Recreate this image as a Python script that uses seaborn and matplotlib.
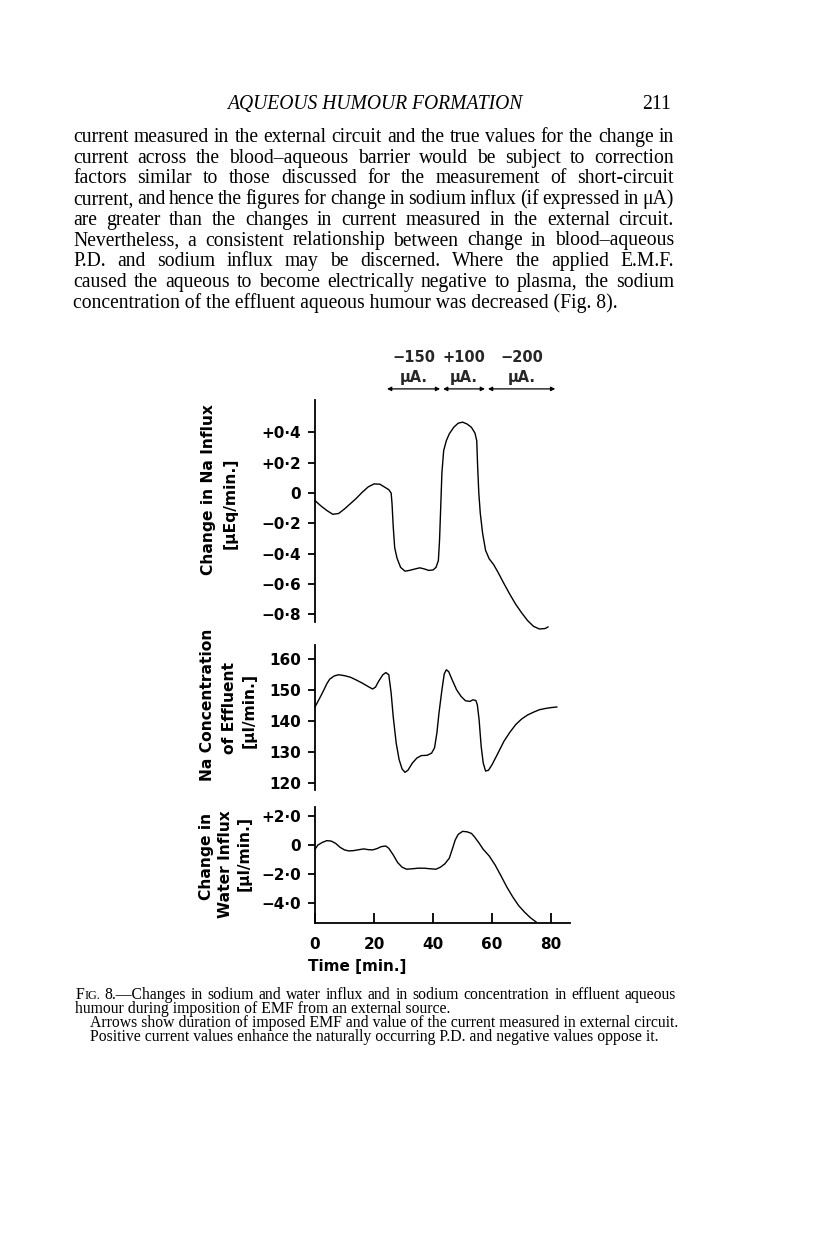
import numpy as np
import pandas as pd
import matplotlib
matplotlib.use("Agg")
import matplotlib.pyplot as plt
import seaborn as sns

# ---------------- data ----------------
na_influx_t = [0, 2, 4, 6, 8, 10, 12, 14, 16, 18, 20, 22, 23.5, 25, 25.8, 26.1, 26.5, 27, 27.8, 29,
               30.5, 32, 34, 35.5, 37, 38.5, 40, 41, 41.8, 42.2, 42.6, 43, 43.6, 44.5, 45.5, 47, 48.5,
               50, 51.5, 53, 54.2, 54.8, 55.1, 55.5, 56, 56.8, 57.8, 59, 60.5, 62, 64, 66, 68, 70,
               72, 74, 76, 78, 79]
na_influx_v = [-0.05, -0.085, -0.115, -0.14, -0.135, -0.105, -0.07, -0.035, 0.005, 0.04, 0.06, 0.058,
               0.04, 0.022, 0.0, -0.07, -0.22, -0.36, -0.43, -0.49, -0.515, -0.51, -0.5, -0.493, -0.5,
               -0.51, -0.507, -0.49, -0.445, -0.31, -0.09, 0.133, 0.28, 0.345, 0.39, 0.433, 0.46,
               0.467, 0.455, 0.433, 0.395, 0.345, 0.178, 0.0, -0.133, -0.267, -0.378, -0.433, -0.471,
               -0.522, -0.596, -0.667, -0.733, -0.789, -0.84, -0.878, -0.896, -0.893, -0.882]

na_conc_t = [0, 1, 2, 3, 4, 5, 6.5, 8, 10, 12, 14, 16, 18, 19.5, 20.5, 21.5, 23, 24, 25, 25.8, 26.5,
             27.5, 28.5, 29.5, 30.5, 31.5, 33, 34.5, 36, 38, 39.5, 40.5, 41.3, 42, 43, 43.8, 44.5,
             45.3, 46.5, 48, 49.5, 51, 52.5, 53.5, 54.5, 55, 55.6, 56.3, 57, 57.8, 58.8, 60, 62, 64,
             66, 68, 70, 72, 74, 76, 78, 80, 82]
na_conc_v = [144.5, 146.3, 148.1, 150.0, 152.0, 153.5, 154.5, 154.9, 154.6, 154.1, 153.2, 152.2, 151.1,
             150.3, 150.9, 152.7, 154.9, 155.6, 154.9, 149.0, 141.4, 132.9, 127.5, 124.5, 123.4,
             124.1, 126.4, 128.0, 128.8, 128.9, 129.6, 131.3, 136.1, 142.5, 150.0, 155.2, 156.5,
             155.9, 153.2, 150.0, 147.9, 146.5, 146.3, 146.8, 146.6, 145.2, 140.4, 131.8, 126.4,
             123.8, 124.1, 125.9, 129.6, 133.4, 136.3, 138.8, 140.6, 141.9, 142.8, 143.6, 144.0,
             144.3, 144.5]

water_t = [0, 1, 2.5, 4, 5.5, 7, 8.5, 10, 11.5, 13, 15, 16.5, 18, 19.5, 21, 22.5, 24, 25, 26.5, 28,
           29.5, 31, 33, 35, 37, 39, 41, 42.5, 44, 45.5, 46.5, 47.5, 48.5, 50, 51.5, 53, 54, 55.5,
           57, 59, 61, 63, 65, 67, 69, 71, 73, 75]
water_v = [-0.3, 0.0, 0.18, 0.3, 0.27, 0.11, -0.16, -0.34, -0.41, -0.39, -0.32, -0.27, -0.32, -0.34,
           -0.25, -0.11, -0.07, -0.23, -0.68, -1.21, -1.53, -1.67, -1.64, -1.6, -1.6, -1.64, -1.67,
           -1.53, -1.3, -0.91, -0.3, 0.34, 0.73, 0.94, 0.91, 0.8, 0.57, 0.16, -0.3, -0.75, -1.37,
           -2.12, -2.9, -3.58, -4.18, -4.63, -5.02, -5.32]

current_labels = ["\u2212150", "+100", "\u2212200"]
current_start = [24.4, 43.4, 58.6]
current_end = [42.4, 57.6, 81.4]

na_influx_ticks = [0.4, 0.2, 0.0, -0.2, -0.4, -0.6, -0.8]
na_influx_ticklabels = ["+0\u00b74", "+0\u00b72", "0", "\u22120\u00b72", "\u22120\u00b74", "\u22120\u00b76", "\u22120\u00b78"]
na_conc_ticks = [160, 150, 140, 130, 120]
na_conc_ticklabels = ["160", "150", "140", "130", "120"]
water_ticks = [2.0, 0.0, -2.0, -4.0]
water_ticklabels = ["+2\u00b70", "0", "\u22122\u00b70", "\u22124\u00b70"]
time_ticks = [0, 20, 40, 60, 80]
time_ticklabels = ["0", "20", "40", "60", "80"]

header = "AQUEOUS HUMOUR FORMATION"
page_no = "211"
body_lines = [
    "current measured in the external circuit and the true values for the change in",
    "current across the blood\u2013aqueous barrier would be subject to correction",
    "factors similar to those discussed for the measurement of short-circuit",
    "current, and hence the figures for change in sodium influx (if expressed in \u03bcA)",
    "are greater than the changes in current measured in the external circuit.",
    "Nevertheless, a consistent relationship between change in blood\u2013aqueous",
    "P.D. and sodium influx may be discerned.  Where the applied E.M.F.",
    "caused the aqueous to become electrically negative to plasma, the sodium",
    "concentration of the effluent aqueous humour was decreased (Fig. 8).",
]
caption_first_rest = "8.\u2014Changes in sodium and water influx and in sodium concentration in effluent aqueous"
caption_lines = [
    "humour during imposition of EMF from an external source.",
    "Arrows show duration of imposed EMF and value of the current measured in external circuit.",
    "Positive current values enhance the naturally occurring P.D. and negative values oppose it.",
]

# ---------------- figure ----------------
W, H = 816, 1239
sns.set_theme(style="white")
plt.rcParams["font.family"] = ["DejaVu Sans"]
fig = plt.figure(figsize=(W / 100, H / 100), dpi=100)
fig.patch.set_facecolor("white")
renderer = fig.canvas.get_renderer()


def fx(px):
    return px / W


def fy(py):
    return 1 - py / H


def width_of(s, **kw):
    t = fig.text(0, 0, s, **kw)
    w = t.get_window_extent(renderer).width
    t.remove()
    return w


def put(s, x, y, **kw):
    return fig.text(fx(x), fy(y), s, color="black", **kw)


def justified(s, x0, x1, y, **kw):
    words = s.split()
    ws = [width_of(w_, **kw) for w_ in words]
    gap = (x1 - x0 - sum(ws)) / (len(words) - 1)
    x = x0
    for w_, wd in zip(words, ws):
        put(w_, x, y, ha="left", va="baseline", **kw)
        x += wd + gap


def axes_at(left, top, right, bottom):
    return fig.add_axes([fx(left), fy(bottom), (right - left) / W, (bottom - top) / H])


X0, X1 = 315, 570
xmax = 86.4
bold = dict(fontweight="bold", family="DejaVu Sans")

ax1 = axes_at(X0, 400, X1, 622)
ax2 = axes_at(X0, 645, X1, 790)
ax3 = axes_at(X0, 807, X1, 923)

series = [
    (ax1, na_influx_t, na_influx_v, (-0.85, 0.613), na_influx_ticks, na_influx_ticklabels),
    (ax2, na_conc_t, na_conc_v, (117.7, 164.5), na_conc_ticks, na_conc_ticklabels),
    (ax3, water_t, water_v, (-5.38, 2.62), water_ticks, water_ticklabels),
]
for ax, t, v, yl, yt, ytl in series:
    ax.set_facecolor("none")
    df = pd.DataFrame({"t": t, "v": v})
    sns.lineplot(data=df, x="t", y="v", ax=ax, color="black", lw=1.0, estimator=None, sort=False)
    for ln in ax.lines:
        ln.set_clip_on(False)
    ax.set_xlim(0, xmax)
    ax.set_ylim(*yl)
    ax.set_xlabel("")
    ax.set_ylabel("")
    ax.set_yticks(yt)
    ax.set_yticklabels(ytl, fontsize=11, **bold)
    ax.tick_params(axis="y", direction="out", length=5, width=1.3, pad=5, colors="black", left=True)
    for sp in ["top", "right", "bottom"]:
        ax.spines[sp].set_visible(False)
    ax.spines["left"].set_linewidth(1.3)
    ax.spines["left"].set_color("black")

for ax in (ax1, ax2):
    ax.set_xticks([])

ax3.spines["bottom"].set_visible(True)
ax3.spines["bottom"].set_linewidth(1.3)
ax3.spines["bottom"].set_color("black")
ax3.set_xticks(time_ticks)
ax3.set_xticklabels(time_ticklabels, fontsize=11, **bold)
ax3.tick_params(axis="x", direction="in", length=7, width=1.3, pad=10, colors="black", bottom=True)

# current arrows and labels
for lab, s, e in zip(current_labels, current_start, current_end):
    ax1.annotate("", xy=(e, 1.05), xytext=(s, 1.05), xycoords=("data", "axes fraction"),
                 textcoords=("data", "axes fraction"),
                 arrowprops=dict(arrowstyle="<|-|>", lw=0.9, color="black", mutation_scale=6,
                                 shrinkA=0, shrinkB=0))
    mid = (s + e) / 2
    ax1.text(mid, 1.19, lab, transform=ax1.get_xaxis_transform(), ha="center", va="center",
             fontsize=10.5, **bold, clip_on=False)
    ax1.text(mid, 1.10, "\u03bcA.", transform=ax1.get_xaxis_transform(), ha="center", va="center",
             fontsize=10.5, **bold, clip_on=False)

# y labels
lab_kw = dict(rotation=90, ha="center", va="center", fontsize=11.2, **bold)
put("Change in Na Influx", 208, 490, **lab_kw)
put("[\u03bcEq/min.]", 230, 503, **lab_kw)
put("Na Concentration", 207, 705, **lab_kw)
put("of Effluent", 230, 708, **lab_kw)
put("[\u03bcl/min.]", 249, 710, **lab_kw)
put("Change in", 207, 856, **lab_kw)
put("Water Influx", 226, 864, **lab_kw)
put("[\u03bcl/min.]", 244, 853, **lab_kw)
put("Time [min.]", 357, 966, ha="center", va="center", fontsize=11, **bold)

# page text
serif = "Liberation Serif"
hs = 12 * 295 / width_of(header, family=serif, style="italic", size=12)
put(header, 227, 109, ha="left", va="baseline", family=serif, style="italic", size=hs)
put(page_no, 671, 109, ha="right", va="baseline", family=serif, size=hs)

bs = 10 * 601 / width_of(body_lines[0], family=serif, size=10)
for i, line in enumerate(body_lines):
    y = 142 + 20.7 * i
    if i == len(body_lines) - 1:
        put(line, 73, y, ha="left", va="baseline", family=serif, size=bs)
    else:
        justified(line, 73, 674, y, family=serif, size=bs)

cs = 10 * 270 / width_of("Arrows show duration of imposed EMF an", family=serif, size=10)
# first caption line with small caps "FIG."
wF = width_of("F", family=serif, size=cs)
put("F", 76, 999, ha="left", va="baseline", family=serif, size=cs)
wIG = width_of("IG.", family=serif, size=cs * 0.78)
put("IG.", 76 + wF, 999, ha="left", va="baseline", family=serif, size=cs * 0.78)
justified(caption_first_rest, 76 + wF + wIG + cs * 0.3, 676, 999, family=serif, size=cs)
put(caption_lines[0], 75, 1013, ha="left", va="baseline", family=serif, size=cs)
put(caption_lines[1], 90, 1027, ha="left", va="baseline", family=serif, size=cs)
put(caption_lines[2], 90, 1041, ha="left", va="baseline", family=serif, size=cs)

fig.savefig("out.png", dpi=100, facecolor="white")
